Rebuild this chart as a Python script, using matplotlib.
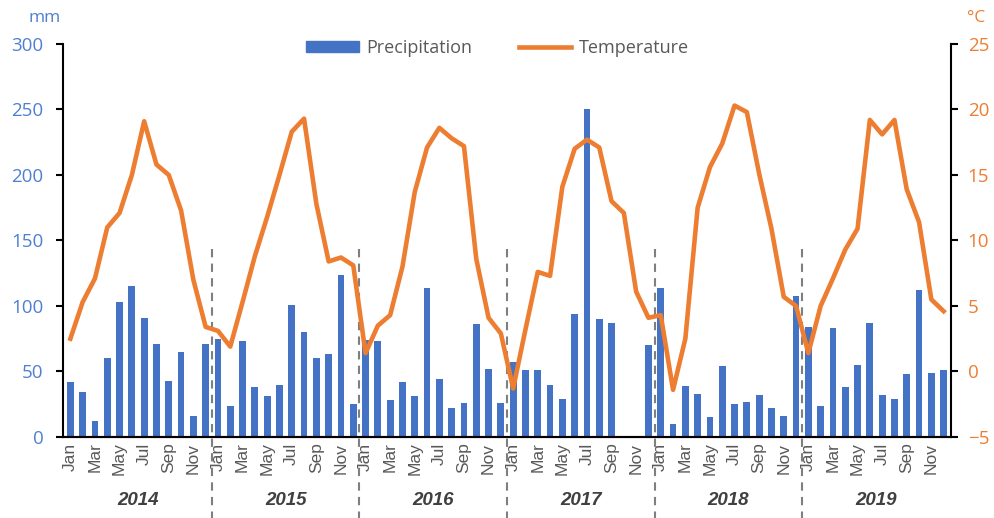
import numpy as np
import matplotlib.pyplot as plt
import matplotlib.transforms as mtransforms
from matplotlib.lines import Line2D
from matplotlib.patches import Patch

years = ['2014', '2015', '2016', '2017', '2018', '2019']
months = ['Jan', 'Feb', 'Mar', 'Apr', 'May', 'Jun',
          'Jul', 'Aug', 'Sep', 'Oct', 'Nov', 'Dec']

# monthly precipitation (mm)
precip = [
    42, 34, 12, 60, 103, 115, 91, 71, 43, 65, 16, 71,      # 2014
    75, 24, 73, 38, 31, 40, 101, 80, 60, 63, 124, 25,      # 2015
    74, 73, 28, 42, 31, 114, 44, 22, 26, 86, 52, 26,       # 2016
    57, 51, 51, 40, 29, 94, 250, 90, 87, 0, 0, 70,         # 2017
    114, 10, 39, 33, 15, 54, 25, 27, 32, 22, 16, 108,      # 2018
    84, 24, 83, 38, 55, 87, 32, 29, 48, 112, 49, 51,       # 2019
]

# monthly mean temperature (°C)
temp = [
    2.5, 5.3, 7.1, 11.0, 12.1, 15.0, 19.1, 15.8, 15.0, 12.3, 7.0, 3.4,
    3.1, 1.9, 5.3, 8.8, 11.8, 15.0, 18.3, 19.3, 12.8, 8.4, 8.7, 8.1,
    1.4, 3.5, 4.3, 8.0, 13.7, 17.1, 18.6, 17.8, 17.2, 8.6, 4.1, 2.9,
    -1.3, 3.2, 7.6, 7.3, 14.1, 17.0, 17.7, 17.1, 13.0, 12.1, 6.1, 4.1,
    4.3, -1.4, 2.5, 12.5, 15.6, 17.4, 20.3, 19.8, 15.1, 10.9, 5.7, 5.0,
    1.4, 5.0, 7.1, 9.3, 10.9, 19.2, 18.1, 19.2, 13.9, 11.4, 5.5, 4.6,
]

blue = '#4472C4'
orange = '#ED7D31'
lblue = '#4F7FD1'
ui_font = ['Open Sans', 'DejaVu Sans']

plt.rcParams['font.family'] = ['Liberation Sans', 'DejaVu Sans']

fig = plt.figure(figsize=(9.95, 5.18), dpi=100)
ax = fig.add_axes([0.0633, 0.1564, 0.8925, 0.7587])
ax2 = ax.twinx()

x = np.arange(len(precip))
ax.bar(x, precip, width=0.55, color=blue, zorder=2)
ax2.plot(x, temp, color=orange, lw=3.3, solid_joinstyle='round', zorder=3)

ax.set_xlim(-0.6, len(precip) - 0.4)
ax.set_ylim(0, 300)
ax2.set_ylim(-5, 25)
ax.set_yticks(range(0, 301, 50))
ax2.set_yticks(range(-5, 26, 5))

ax.tick_params(axis='y', colors='black', labelcolor=lblue, labelsize=13.5,
               direction='out', length=5, width=1.5, pad=9)
ax2.tick_params(axis='y', colors='black', labelcolor=orange, labelsize=13.5,
                direction='out', length=5, width=1.5, pad=7)
for a in (ax, ax2):
    for lab in a.get_yticklabels():
        lab.set_family(ui_font)
    a.spines['top'].set_visible(False)
    for s in ('left', 'right', 'bottom'):
        a.spines[s].set_linewidth(1.5)
ax2.spines['left'].set_visible(False)
ax.spines['right'].set_visible(False)

# month labels every other month
ax.set_xticks(x[::2])
ax.set_xticklabels([months[i % 12] for i in x[::2]], rotation=90,
                   color='#595959', fontsize=12.5)
ax.tick_params(axis='x', length=0, pad=4)

# year labels and dashed separators
trans = mtransforms.blended_transform_factory(ax.transData, ax.transAxes)
for k, yr in enumerate(years):
    ax.text(12 * k + 5.5, -0.162, yr, transform=trans, ha='center', va='center',
            fontsize=13.5, fontweight='bold', style='italic', color='#404040')
    if k > 0:
        ax.add_line(Line2D([12 * k - 0.5] * 2, [0.478, -0.21], transform=trans,
                           color='#7F7F7F', lw=1.5, ls=(0, (4, 3)),
                           clip_on=False, zorder=4))

fig.text(0.045, 0.965, 'mm', color=lblue, fontsize=12.5, family=ui_font,
         ha='center', va='center')
fig.text(0.981, 0.965, '°C', color=orange, fontsize=12.5, family=ui_font,
         ha='center', va='center')

handles = [Patch(color=blue), Line2D([], [], color=orange, lw=3.3)]
fig.legend(handles, ['Precipitation', 'Temperature'], loc='center',
           bbox_to_anchor=(0.5, 0.908), ncol=2, frameon=False, fontsize=13,
           handlelength=2.9, handleheight=0.55, handletextpad=0.4,
           columnspacing=2.6, labelcolor='#595959', prop={'family': ui_font, 'size': 13})

fig.savefig('out.png', dpi=100)
